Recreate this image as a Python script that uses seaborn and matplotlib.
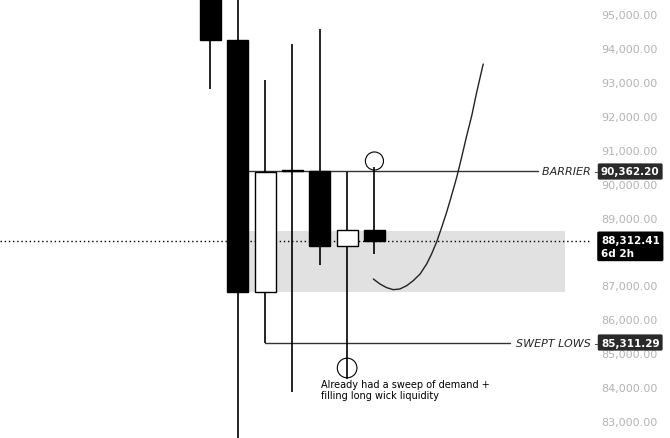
import numpy as np
import pandas as pd
import seaborn as sns
import matplotlib.pyplot as plt

# candles (index on x, price on y)
candle_x = [0, 1, 2, 3, 4, 5, 6]
opens = [96200, 94246, 86804, 90420, 90377, 88162, 88634]
closes = [94246, 86804, 90362, 90380, 88162, 88634, 88312.41]
highs = [96600, 96000, 93064, 94128, 94570, 90347, 90495]
lows = [92805, 82300, 85311.29, 83850, 87601, 84234, 87926]

# levels
barrier = 90362.20
swept_lows = 85311.29
last_price = 88312.41
zone_top, zone_bottom = 88605, 86803

# projected path drawn on the chart
curve_x = [5.96, 6.20, 6.45, 6.69, 6.93, 7.18, 7.42, 7.67, 7.91, 8.09,
           8.28, 8.46, 8.64, 8.82, 9.01, 9.19, 9.37, 9.56, 9.74, 9.98]
curve_p = [87187, 87040, 86931, 86872, 86892, 86990, 87138, 87335, 87630, 87926,
           88290, 88713, 89156, 89648, 90190, 90781, 91401, 92011, 92700, 93537]

# circled wicks
circle_x = [6, 5]
circle_p = [90672, 84559]

yticks = list(range(83000, 96000, 1000))
# 88,000 sits under the last-price tag
ylabels = ['' if v == 88000 else f'{v:,.2f}' for v in yticks]

sns.set_theme(style='white')
plt.rcParams['font.family'] = ['DejaVu Sans']

fig = plt.figure(figsize=(6.7, 4.39), dpi=100)
ax = fig.add_axes([0, 0, 592 / 670, 1])

ax.fill_between([1, 12.97], zone_bottom, zone_top, color='#e1e1e1', lw=0, zorder=0)
ax.axhline(last_price, color='black', lw=1, linestyle=(0, (1, 2)), zorder=1)

ax.plot([1, 11.98], [barrier, barrier], color='#333333', lw=1, zorder=1)
ax.plot([2, 10.96], [swept_lows, swept_lows], color='#333333', lw=1, zorder=1)

ax.vlines(candle_x, lows, highs, color='black', lw=1.2, zorder=2)
for x, o, c in zip(candle_x, opens, closes):
    fill = 'black' if c < o else 'white'
    ax.bar(x, abs(c - o), bottom=min(o, c), width=0.77, color=fill,
           edgecolor='black', linewidth=1, zorder=3)

sns.lineplot(x=curve_x, y=curve_p, color='#222222', lw=1, sort=False,
             estimator=None, ax=ax, zorder=4)

ax.scatter(circle_x, circle_p, s=[170, 200], facecolors='none',
           edgecolors='black', linewidths=0.8, zorder=4)

ax.text(4.05, 84230, 'Already had a sweep of demand +\nfilling long wick liquidity',
        fontsize=7, color='black', ha='left', va='top', linespacing=1.05)

ytr = ax.get_yaxis_transform()
ax.text(1.01, barrier, 'BARRIER -', transform=ytr, ha='right', va='center',
        fontsize=8, style='italic', clip_on=False)
ax.text(1.01, swept_lows, 'SWEPT LOWS -', transform=ytr, ha='right', va='center',
        fontsize=8, style='italic', clip_on=False)

box_x = 1.015
ax.text(box_x, barrier, f'{barrier:,.2f}', transform=ytr, ha='left', va='center',
        fontsize=7.5, fontweight='bold', color='white', clip_on=False, zorder=10,
        bbox=dict(boxstyle='round,pad=0.3,rounding_size=0.15', fc='#2a2a2a', ec='none'))
ax.text(box_x, swept_lows, f'{swept_lows:,.2f}', transform=ytr, ha='left', va='center',
        fontsize=7.5, fontweight='bold', color='white', clip_on=False, zorder=10,
        bbox=dict(boxstyle='round,pad=0.3,rounding_size=0.15', fc='#2a2a2a', ec='none'))
ax.text(box_x, last_price + 170, f'{last_price:,.2f}\n6d 2h', transform=ytr, ha='left',
        va='top', fontsize=7.5, fontweight='bold', color='white', clip_on=False,
        zorder=10, linespacing=1.3,
        bbox=dict(boxstyle='round,pad=0.35,rounding_size=0.15', fc='black', ec='none'))

ax.set_xlim(-7.70, 13.96)
ax.set_ylim(82491, 95457)
ax.set_xticks([])
ax.set_yticks(yticks)
ax.set_yticklabels(ylabels)
ax.yaxis.tick_right()
ax.tick_params(axis='y', length=0, pad=6.5, labelsize=8, labelcolor='#b3b3b3')
for s in ax.spines.values():
    s.set_visible(False)

fig.savefig('out.png', dpi=100)
